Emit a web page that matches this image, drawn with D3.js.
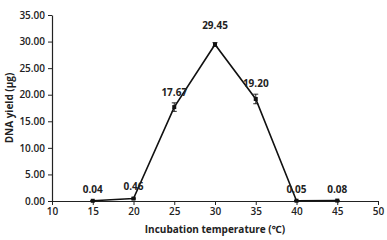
<!DOCTYPE html>
<html>
<head>
<meta charset="utf-8">
<script src="https://cdn.jsdelivr.net/npm/d3@7"></script>
<style>
  body { margin: 0; background: #fff; }
  svg { font-family: "Open Sans", "Noto Sans", sans-serif; }
</style>
</head>
<body>
<svg id="chart"></svg>
<script>
const temps = [15, 20, 25, 30, 35, 40, 45];
const yields = [0.04, 0.46, 17.67, 29.45, 19.20, 0.05, 0.08];
const errors = [0.05, 0.1, 0.8, 0.35, 0.9, 0.05, 0.05];
const xTicks = [10, 15, 20, 25, 30, 35, 40, 45, 50];
const yTicks = [0, 5, 10, 15, 20, 25, 30, 35];

const w = 387, h = 240;
const svg = d3.select("#chart").attr("width", w).attr("height", h);

const x = d3.scaleLinear().domain([10, 50]).range([52, 378]);
const y = d3.scaleLinear().domain([0, 35]).range([201, 15]);

// axes
const xAxis = svg.append("g")
  .attr("transform", "translate(0," + y(0) + ")")
  .call(d3.axisBottom(x).tickValues(xTicks).tickSize(4).tickSizeOuter(0).tickPadding(3));
const yAxis = svg.append("g")
  .attr("transform", "translate(" + x(10) + ",0)")
  .call(d3.axisLeft(y).tickValues(yTicks).tickFormat(d3.format(".2f")).tickSize(4).tickSizeOuter(0).tickPadding(3));

[xAxis, yAxis].forEach(g => {
  g.select(".domain").attr("stroke", "#222").attr("stroke-width", 1.2);
  g.selectAll(".tick line").attr("stroke", "#222").attr("stroke-width", 1);
  g.selectAll(".tick text").attr("fill", "#222").attr("font-size", 10)
    .attr("font-weight", 600).attr("font-family", "'Open Sans', sans-serif");
});

// line
const line = d3.line().x((d, i) => x(temps[i])).y(d => y(d));
svg.append("path")
  .datum(yields)
  .attr("fill", "none")
  .attr("stroke", "#111")
  .attr("stroke-width", 1.6)
  .attr("d", line);

// error bars
const eb = svg.append("g").attr("stroke", "#111").attr("stroke-width", 0.9);
yields.forEach((v, i) => {
  const cx = x(temps[i]);
  eb.append("line").attr("x1", cx).attr("x2", cx).attr("y1", y(v - errors[i])).attr("y2", y(v + errors[i]));
  eb.append("line").attr("x1", cx - 2.5).attr("x2", cx + 2.5).attr("y1", y(v - errors[i])).attr("y2", y(v - errors[i]));
  eb.append("line").attr("x1", cx - 2.5).attr("x2", cx + 2.5).attr("y1", y(v + errors[i])).attr("y2", y(v + errors[i]));
});

// markers
svg.append("g").selectAll("rect")
  .data(yields)
  .join("rect")
  .attr("x", (d, i) => x(temps[i]) - 2)
  .attr("y", d => y(d) - 2)
  .attr("width", 4)
  .attr("height", 4)
  .attr("fill", "#111");

// data labels
const labelOffset = [8, 9, 11, 15, 12, 8, 8];
svg.append("g").selectAll("text")
  .data(yields)
  .join("text")
  .attr("x", (d, i) => x(temps[i]))
  .attr("y", (d, i) => y(d) - labelOffset[i])
  .attr("text-anchor", "middle")
  .attr("font-size", 10)
  .attr("font-weight", 700)
  .attr("fill", "#222")
  .text(d => d.toFixed(2));

// axis titles
svg.append("text")
  .attr("x", (x(10) + x(50)) / 2)
  .attr("y", 233)
  .attr("text-anchor", "middle")
  .attr("font-size", 10)
  .attr("font-weight", 700)
  .attr("fill", "#222")
  .text("Incubation temperature (℃)");

svg.append("text")
  .attr("transform", "translate(13," + y(17.5) + ") rotate(-90)")
  .attr("text-anchor", "middle")
  .attr("font-size", 10)
  .attr("font-weight", 700)
  .attr("fill", "#222")
  .text("DNA yield (µg)");
</script>
</body>
</html>
